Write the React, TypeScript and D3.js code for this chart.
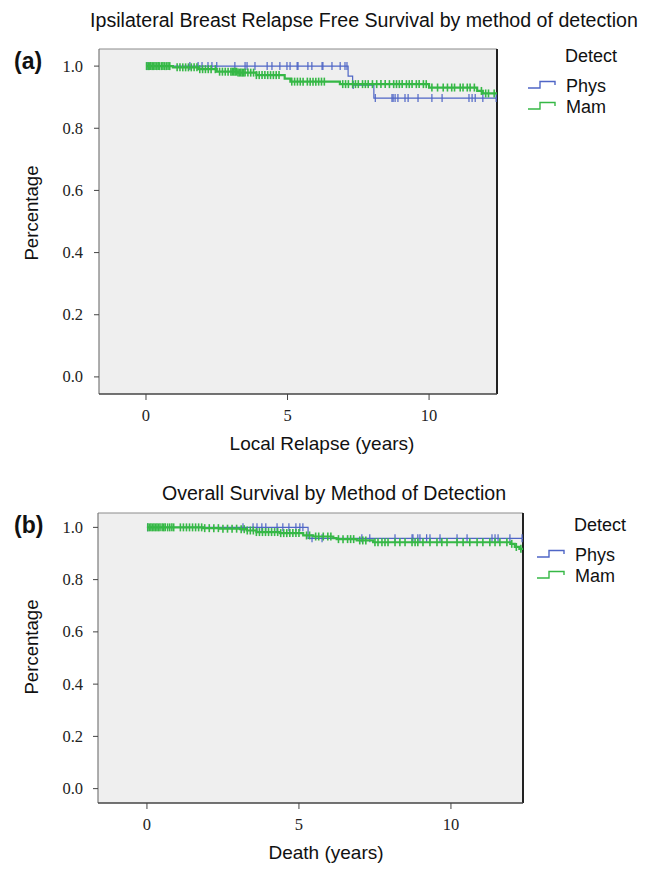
import React from 'react'
import * as d3 from 'd3'

// ---- data ----
const yTicks = [0, 0.2, 0.4, 0.6, 0.8, 1.0]
const xTicks = [0, 5, 10]
const groups = ['Phys', 'Mam']

// panel (a): ipsilateral breast relapse free survival
const physTimeA = [0, 7.14, 7.3, 8.05, 12.4]
const physSurvA = [1, 0.968, 0.939, 0.897, 0.897]
const physCensorA = [0.04, 1.55, 1.84, 1.98, 2.19, 2.33, 2.5, 3.14, 3.5, 3.57, 3.85, 4.28, 4.45, 4.73, 4.98, 5.09, 5.34, 5.37, 5.72, 5.86, 6.22, 6.25, 6.57, 6.86, 7.03, 7.1, 7.32, 8.1, 8.69, 8.73, 8.8, 8.9, 9.15, 9.26, 9.61, 10.1, 10.46, 11.41, 11.52, 11.63, 11.9, 12.37]

const mamTimeA = [0, 0.95, 1.85, 2.5, 3.25, 3.9, 4.9, 5.1, 6.85, 10.0, 11.7, 11.9, 12.4]
const mamSurvA = [1, 0.996, 0.99, 0.982, 0.979, 0.971, 0.96, 0.95, 0.942, 0.931, 0.92, 0.912, 0.912]
const mamCensorA = [0.02, 0.08, 0.12, 0.17, 0.22, 0.27, 0.32, 0.38, 0.43, 0.48, 0.55, 0.6, 0.66, 0.72, 0.78, 0.84, 1.1, 1.2, 1.3, 1.4, 1.5, 1.6, 1.7, 1.8, 1.9, 2.0, 2.1, 2.2, 2.3, 2.45, 2.6, 2.7, 2.8, 2.9, 3.0, 3.05, 3.1, 3.15, 3.2, 3.25, 3.3, 3.35, 3.4, 3.45, 3.5, 3.6, 3.7, 3.8, 3.9, 4.0, 4.1, 4.2, 4.3, 4.4, 4.5, 4.6, 4.7, 5.15, 5.25, 5.35, 5.45, 5.55, 5.7, 5.8, 5.9, 6.0, 6.1, 6.2, 6.3, 6.95, 7.05, 7.15, 7.3, 7.4, 7.5, 7.65, 7.75, 7.85, 8.0, 8.15, 8.3, 8.45, 8.6, 8.75, 8.85, 8.95, 9.05, 9.2, 9.3, 9.4, 9.55, 9.65, 9.8, 9.9, 10.1, 10.3, 10.5, 10.65, 10.8, 10.9, 11.1, 11.2, 11.35, 11.45, 11.6, 11.85, 12.0, 12.1, 12.3]

// panel (b): overall survival
const physTimeB = [0, 5.3, 12.37]
const physSurvB = [1, 0.958, 0.958]
const physCensorB = [0.02, 3.16, 3.49, 3.62, 3.78, 3.91, 4.28, 4.47, 4.67, 4.9, 5.03, 5.13, 5.43, 5.76, 7.07, 7.33, 8.16, 8.72, 8.75, 8.91, 8.98, 9.2, 9.31, 9.64, 10.2, 10.53, 11.35, 11.45, 11.55, 11.94, 12.34]

const mamTimeB = [0, 1.85, 2.4, 3.06, 3.28, 3.6, 4.37, 5.14, 5.47, 6.13, 6.24, 6.9, 7.44, 11.95, 12.1, 12.25, 12.37]
const mamSurvB = [1, 0.997, 0.995, 0.993, 0.988, 0.982, 0.978, 0.969, 0.965, 0.959, 0.955, 0.95, 0.943, 0.937, 0.925, 0.918, 0.918]
const mamCensorB = [0.03, 0.08, 0.13, 0.18, 0.23, 0.28, 0.33, 0.38, 0.43, 0.5, 0.55, 0.6, 0.68, 0.75, 0.82, 0.88, 1.1, 1.2, 1.3, 1.4, 1.5, 1.6, 1.7, 1.8, 1.9, 2.05, 2.2, 2.35, 2.5, 2.65, 2.8, 2.95, 3.1, 3.2, 3.3, 3.4, 3.5, 3.6, 3.7, 3.8, 3.9, 4.0, 4.1, 4.2, 4.3, 4.4, 4.5, 4.6, 4.7, 4.8, 4.9, 5.0, 5.25, 5.35, 5.55, 5.65, 5.8, 5.95, 6.05, 6.3, 6.45, 6.6, 6.7, 6.8, 7.0, 7.1, 7.2, 7.5, 7.6, 7.73, 7.83, 7.93, 8.16, 8.32, 8.49, 8.72, 8.82, 8.91, 9.08, 9.31, 9.54, 9.7, 9.87, 10.2, 10.4, 10.62, 10.86, 11.05, 11.28, 11.45, 11.61, 11.84, 12.0, 12.15, 12.3]

const colors = { Phys: '#4f66c6', Mam: '#36b846' }
const lineWidth = { Phys: 1.2, Mam: 2.2 }
const tickWidth = { Phys: 1.2, Mam: 1.6 }
const SANS = '"Liberation Sans", Arial, sans-serif'
const SERIF = '"Liberation Serif", "Times New Roman", serif'

type Series = { name: 'Phys' | 'Mam'; times: number[]; surv: number[]; censor: number[] }

const survAt = (s: Series, t: number) => s.surv[Math.max(0, d3.bisectRight(s.times, t) - 1)]

type PanelProps = {
  tag: string
  title: string
  titleX: number
  titleY: number
  xLabel: string
  xLabelX: number
  yLabelY: number
  box: { left: number; right: number; top: number; bottom: number }
  xDomain: [number, number]
  series: Series[]
  legend: { x: number; y: number }
}

const Panel = ({ tag, title, titleX, titleY, xLabel, xLabelX, yLabelY, box, xDomain, series, legend }: PanelProps) => {
  const x = d3.scaleLinear().domain(xDomain).range([box.left, box.right])
  const y = d3.scaleLinear().domain([-0.055, 1.055]).range([box.bottom, box.top])
  const line = d3
    .line<[number, number]>()
    .x((d) => x(d[0]))
    .y((d) => y(d[1]))
    .curve(d3.curveStepAfter)

  return (
    <g>
      <text x={titleX} y={titleY} textAnchor="middle" fontFamily={SANS} fontSize={19.6} fill="#111">
        {title}
      </text>
      <text x={14} y={box.top + 20} fontFamily={SANS} fontWeight="bold" fontSize={23} fill="#111">
        {tag}
      </text>

      {/* plot area */}
      <rect x={box.left} y={box.top} width={box.right - box.left} height={box.bottom - box.top} fill="#efefef" />
      <line x1={box.left} x2={box.right} y1={box.top} y2={box.top} stroke="#8c8c8c" strokeWidth={1.2} />
      <line x1={box.left} x2={box.left} y1={box.top} y2={box.bottom} stroke="#7a7a7a" strokeWidth={1.2} />
      <line x1={box.right} x2={box.right} y1={box.top} y2={box.bottom} stroke="#222" strokeWidth={2} />
      <line x1={box.left} x2={box.right} y1={box.bottom} y2={box.bottom} stroke="#444" strokeWidth={1.6} />

      {/* y axis */}
      {yTicks.map((t) => (
        <g key={t}>
          <line x1={box.left - 5} x2={box.left} y1={y(t)} y2={y(t)} stroke="#444" strokeWidth={1} />
          <text x={83} y={y(t) + 5.5} textAnchor="end" fontFamily={SERIF} fontSize={16.5} fill="#222">
            {t.toFixed(1)}
          </text>
        </g>
      ))}
      <text
        transform={`translate(38,${yLabelY}) rotate(-90)`}
        textAnchor="middle"
        fontFamily={SANS}
        fontSize={18.6}
        fill="#111"
      >
        Percentage
      </text>

      {/* x axis */}
      {xTicks.map((t) => (
        <g key={t}>
          <line x1={x(t)} x2={x(t)} y1={box.bottom} y2={box.bottom + 6} stroke="#444" strokeWidth={1} />
          <text x={x(t)} y={box.bottom + 27} textAnchor="middle" fontFamily={SERIF} fontSize={16.5} fill="#222">
            {t}
          </text>
        </g>
      ))}
      <text x={xLabelX} y={box.bottom + 56} textAnchor="middle" fontFamily={SANS} fontSize={19} fill="#111">
        {xLabel}
      </text>

      {/* survival curves with censor marks */}
      {series.map((s) => (
        <g key={s.name} stroke={colors[s.name]} fill="none">
          <path d={line(s.times.map((t, i) => [t, s.surv[i]] as [number, number])) || ''} strokeWidth={lineWidth[s.name]} />
          {s.censor.map((c, i) => (
            <line
              key={i}
              x1={x(c)}
              x2={x(c)}
              y1={y(survAt(s, c)) - 4}
              y2={y(survAt(s, c)) + 4}
              strokeWidth={tickWidth[s.name]}
            />
          ))}
        </g>
      ))}

      {/* legend */}
      <text x={legend.x + 37} y={legend.y} fontFamily={SANS} fontSize={18} fill="#111">
        Detect
      </text>
      {groups.map((g, i) => {
        const ly = legend.y + 26 + i * 21
        const lx = legend.x
        return (
          <g key={g}>
            <path
              d={`M${lx},${ly} H${lx + 12} V${ly - 6.5} H${lx + 27} V${ly - 3}`}
              stroke={colors[g as keyof typeof colors]}
              strokeWidth={1.4}
              fill="none"
            />
            <text x={lx + 38} y={ly + 4} fontFamily={SANS} fontSize={18} fill="#111">
              {g}
            </text>
          </g>
        )
      })}
    </g>
  )
}

const App = () => {
  const seriesA: Series[] = [
    { name: 'Phys', times: physTimeA, surv: physSurvA, censor: physCensorA },
    { name: 'Mam', times: mamTimeA, surv: mamSurvA, censor: mamCensorA }
  ]
  const seriesB: Series[] = [
    { name: 'Phys', times: physTimeB, surv: physSurvB, censor: physCensorB },
    { name: 'Mam', times: mamTimeB, surv: mamSurvB, censor: mamCensorB }
  ]

  return (
    <div style={{ position: 'absolute', left: 0, top: 0 }}>
      <svg width={646} height={872} style={{ display: 'block', background: '#fff' }}>
        <Panel
          tag="(a)"
          title="Ipsilateral Breast Relapse Free Survival by method of detection"
          titleX={364}
          titleY={27}
          xLabel="Local Relapse (years)"
          xLabelX={322}
          yLabelY={213}
          box={{ left: 99, right: 497, top: 49, bottom: 394 }}
          xDomain={[-1.66, 12.4]}
          series={seriesA}
          legend={{ x: 528, y: 62 }}
        />
        <Panel
          tag="(b)"
          title="Overall Survival by Method of Detection"
          titleX={334}
          titleY={500}
          xLabel="Death (years)"
          xLabelX={326}
          yLabelY={647}
          box={{ left: 98, right: 523, top: 513, bottom: 803 }}
          xDomain={[-1.61, 12.37]}
          series={seriesB}
          legend={{ x: 537, y: 531 }}
        />
      </svg>
    </div>
  )
}

export default App
